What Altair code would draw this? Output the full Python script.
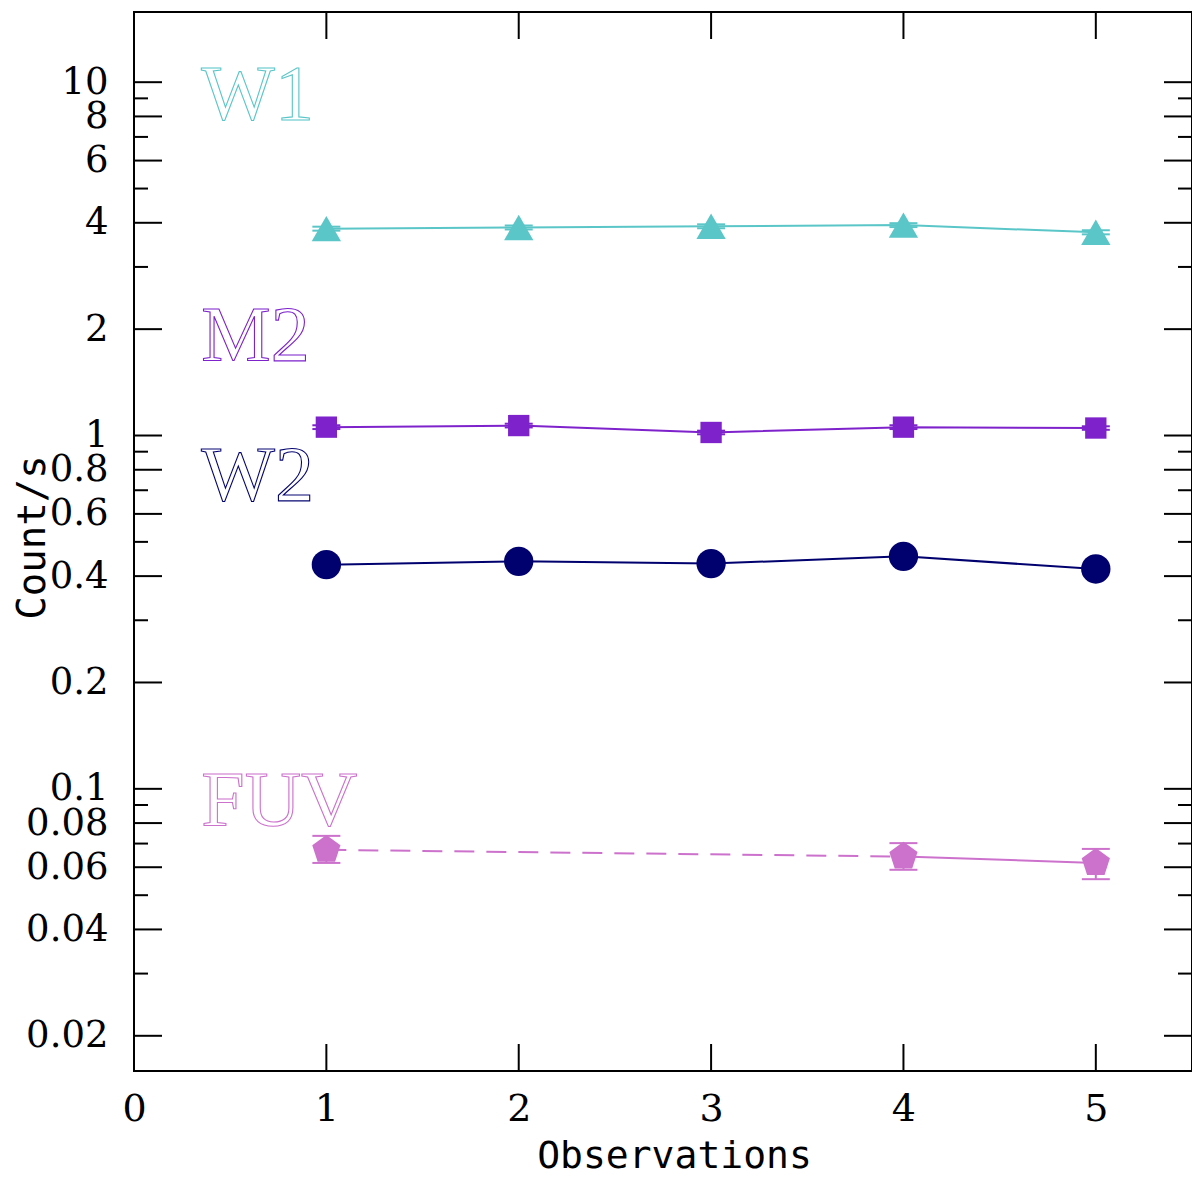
import altair as alt
import pandas as pd

# ---------------- data ----------------
obs = [1, 2, 3, 4, 5]

w1 = [3.85, 3.88, 3.91, 3.94, 3.76]
w1_lo = [3.80, 3.83, 3.86, 3.89, 3.71]
w1_hi = [3.90, 3.93, 3.96, 3.99, 3.81]

m2 = [1.056, 1.067, 1.020, 1.056, 1.050]
m2_lo = [1.043, 1.054, 1.008, 1.043, 1.038]
m2_hi = [1.069, 1.080, 1.032, 1.069, 1.062]

w2 = [0.431, 0.4405, 0.434, 0.455, 0.419]
w2_lo = [0.426, 0.435, 0.429, 0.450, 0.414]
w2_hi = [0.436, 0.446, 0.439, 0.460, 0.424]

fuv_obs = [1, 4, 5]
fuv = [0.0672, 0.0643, 0.0617]
fuv_lo = [0.0617, 0.0590, 0.0555]
fuv_hi = [0.0736, 0.0702, 0.0676]

band_names = ["W1", "M2", "W2", "FUV"]
band_colors = ["#5BC6C8", "#7E22CC", "#00006E", "#CC72CC"]
band_shapes = ["triangle-up", "square", "circle",
               "M0,-1L0.951,-0.309L0.588,0.809L-0.588,0.809L-0.951,-0.309Z"]
band_sizes = [860, 455, 860, 880]
label_x = [0.35, 0.35, 0.35, 0.35]
label_y = [7.86, 1.64, 0.659, 0.0791]

y_major = [0.02, 0.04, 0.06, 0.08, 0.1, 0.2, 0.4, 0.6, 0.8, 1, 2, 4, 6, 8, 10]
y_minor = [0.03, 0.05, 0.07, 0.09, 0.3, 0.5, 0.7, 0.9, 3, 5, 7, 9]
x_ticks = [1, 2, 3, 4, 5]
x_labels = [0, 1, 2, 3, 4, 5]

W, H = 1058, 1059
MAJ, MIN = 28, 14

xscale = alt.Scale(domain=[0, 5.5], nice=False, zero=False)
yscale = alt.Scale(type="log", domain=[0.0159, 15.8], nice=False)

XT = "Observations"
YT = "Count/s"

x_axis = alt.Axis(values=x_labels, format="d", ticks=False, tickSize=0,
                  domain=False, grid=False, labelFont="DejaVu Serif",
                  labelFontSize=38, labelColor="black", labelPadding=49,
                  labelBaseline="alphabetic", labelFlush=False,
                  titleFont="DejaVu Sans Mono", titleFontSize=38,
                  titleFontWeight="normal", titleColor="black",
                  titleBaseline="alphabetic", titleX=540, titleY=96)
y_axis = alt.Axis(values=y_major, format="~g", ticks=False, tickSize=0,
                  domain=False, grid=False, labelFont="DejaVu Serif",
                  labelFontSize=37, labelColor="black", labelPadding=26,
                  labelFlush=False, labelOverlap=False,
                  titleFont="DejaVu Sans Mono", titleFontSize=39,
                  titleFontWeight="normal", titleColor="black",
                  titleAngle=270, titleBaseline="alphabetic",
                  titleAlign="center", titleX=-90, titleY=525)


def series_df(x, y, lo, hi):
    return pd.DataFrame({"obs": x, "val": y, "lo": lo, "hi": hi})


series = [
    series_df(obs, w1, w1_lo, w1_hi),
    series_df(obs, m2, m2_lo, m2_hi),
    series_df(obs, w2, w2_lo, w2_hi),
    series_df(fuv_obs, fuv, fuv_lo, fuv_hi),
]


def X(field="obs"):
    return alt.X(f"{field}:Q", scale=xscale, title=XT, axis=x_axis)


def Y(field="val"):
    return alt.Y(f"{field}:Q", scale=yscale, title=YT, axis=y_axis)


layers = []

# inward ticks on all four sides
ymaj_df = pd.DataFrame({"val": y_major})
ymin_df = pd.DataFrame({"val": y_minor})
xt_df = pd.DataFrame({"obs": x_ticks})
for df, ln in [(ymaj_df, MAJ), (ymin_df, MIN)]:
    layers.append(alt.Chart(df).mark_rule(color="black", strokeWidth=2).encode(
        y=Y(), x=alt.value(0), x2=alt.value(ln)))
    layers.append(alt.Chart(df).mark_rule(color="black", strokeWidth=2).encode(
        y=Y(), x=alt.value(W - ln), x2=alt.value(W)))
layers.append(alt.Chart(xt_df).mark_rule(color="black", strokeWidth=2).encode(
    x=X(), y=alt.value(H), y2=alt.value(H - 27)))
layers.append(alt.Chart(xt_df).mark_rule(color="black", strokeWidth=2).encode(
    x=X(), y=alt.value(0), y2=alt.value(27)))

# series
for i, df in enumerate(series):
    col = band_colors[i]
    if band_names[i] == "FUV":
        layers.append(alt.Chart(df.iloc[0:2]).mark_line(
            color=col, strokeWidth=2, strokeDash=[20, 12]).encode(x=X(), y=Y()))
        layers.append(alt.Chart(df.iloc[1:3]).mark_line(
            color=col, strokeWidth=2).encode(x=X(), y=Y()))
    else:
        layers.append(alt.Chart(df).mark_line(color=col, strokeWidth=2).encode(
            x=X(), y=Y()))
    layers.append(alt.Chart(df).mark_rule(color=col, strokeWidth=2).encode(
        x=X(), y=Y("lo"), y2="hi:Q"))
    for f in ["lo", "hi"]:
        layers.append(alt.Chart(df).mark_point(
            shape="M-1,0L1,0", filled=False, color=col, strokeWidth=2,
            size=784, opacity=1).encode(x=X(), y=Y(f)))
    layers.append(alt.Chart(df).mark_point(
        shape=band_shapes[i], filled=True, color=col, size=band_sizes[i],
        opacity=1).encode(x=X(), y=Y()))

# band labels (outlined serif text)
lab_df = pd.DataFrame({"name": band_names, "obs": label_x, "val": label_y,
                       "c": band_colors})
layers.append(alt.Chart(lab_df).mark_text(
    align="left", baseline="alphabetic", font="Liberation Serif", fontSize=78,
    fill="white", strokeWidth=1.1).encode(
    x=X(), y=Y(), text="name:N", stroke=alt.Stroke("c:N", scale=None)))

chart = alt.layer(*layers).properties(
    width=W, height=H,
    background="white",
    autosize=alt.AutoSizeParams(type="none"),
    padding={"left": 126, "top": 4, "right": 0, "bottom": 106},
).configure_view(stroke="black", strokeWidth=2)

chart.save("out.html", embed_options={"renderer": "svg", "actions": False})
